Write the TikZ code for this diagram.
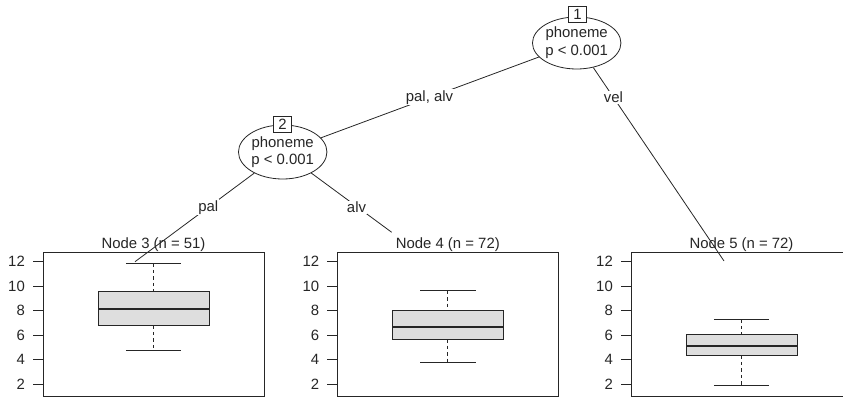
\documentclass[tikz,border=0pt]{standalone}
\usepackage{fontspec}
\setmainfont{Liberation Sans}
\usetikzlibrary{shapes.geometric}
\definecolor{ink}{HTML}{262626}
\definecolor{boxfill}{HTML}{DEDEDE}
\begin{document}
\begin{tikzpicture}[x=1pt,y=-1pt,
  every node/.style={font=\fontsize{14.9}{17.7}\selectfont, text=ink},
  innernode/.style={ellipse, draw=ink, fill=white, inner sep=0pt, align=center, line width=0.8pt},
  idbox/.style={rectangle, draw=ink, fill=white, inner sep=0pt, minimum width=17.5pt, minimum height=15.5pt, line width=0.8pt},
  elabel/.style={fill=white, inner sep=1.2pt},
  treeedge/.style={draw=ink, line width=0.8pt},
  frame/.style={draw=ink, line width=0.8pt},
  whisk/.style={draw=ink, line width=0.8pt, dash pattern=on 3.5pt off 3pt},
  ticklab/.style={anchor=east, inner sep=0pt},
  ptitle/.style={anchor=base, inner sep=0pt}]
\useasboundingbox (0,0) rectangle (843,398);

% terminal panels
\foreach \L/\T/\k in {43/Node 3 (n = 51)/3, 337.3/Node 4 (n = 72)/4, 631/Node 5 (n = 72)/5} {
  \draw[frame] (\L,252) rectangle (\L+221,396);
  \node[ptitle] (t\k) at (\L+110.5,248.6) {\T};
  \foreach \v in {2,4,...,12} {
    \pgfmathsetmacro\yy{261.7+(12-\v)*12.23}
    \draw[frame] (\L-10,\yy) -- (\L,\yy);
    \node[ticklab] (tk\k-\v) at (\L-18,\yy) {\v};
  }
}

% boxplots
\foreach \c/\a/\b/\m/\d/\e in {153.5/263.3/291/309/325.3/350.7, 447.8/290.7/310.7/326.7/339/362.3, 741.5/319.3/334.3/345.7/355.3/385} {
  \draw[whisk] (\c,\a) -- (\c,\b);
  \draw[whisk] (\c,\d) -- (\c,\e);
  \draw[frame] (\c-27.75,\a) -- (\c+27.75,\a);
  \draw[frame] (\c-27.75,\e) -- (\c+27.75,\e);
  \draw[frame, fill=boxfill] (\c-55.5,\b) rectangle (\c+55.5,\d);
  \draw[draw=ink, line width=2.2pt] (\c-55.5,\m) -- (\c+55.5,\m);
}

% inner nodes
\node[innernode, minimum width=83.5pt, minimum height=52pt] (n1) at (576.7,43) {phoneme\\p < 0.001};
\node[innernode, minimum width=83pt, minimum height=54pt] (n2) at (282.7,152) {phoneme\\p < 0.001};

% edge end points in terminal panels
\coordinate (e3) at (135,261.7);
\coordinate (e4) at (391.7,232.3);
\coordinate (e5) at (724,261);

\draw[treeedge] (n2) -- (n1);
\draw[treeedge] (n1) -- (e5);
\draw[treeedge] (n2) -- (e3);
\draw[treeedge] (n2) -- (e4);

\node[elabel] (l12) at (429.5,97.3) {pal, alv};
\node[elabel] (l15) at (613.4,97.3) {vel};
\node[elabel] (l23) at (208.2,207.3) {pal};
\node[elabel] (l24) at (356.5,207.3) {alv};

% node id boxes
\node[idbox] (id1) at (577.5,14.2) {1};
\node[idbox] (id2) at (282.5,124.5) {2};
\end{tikzpicture}
\end{document}
